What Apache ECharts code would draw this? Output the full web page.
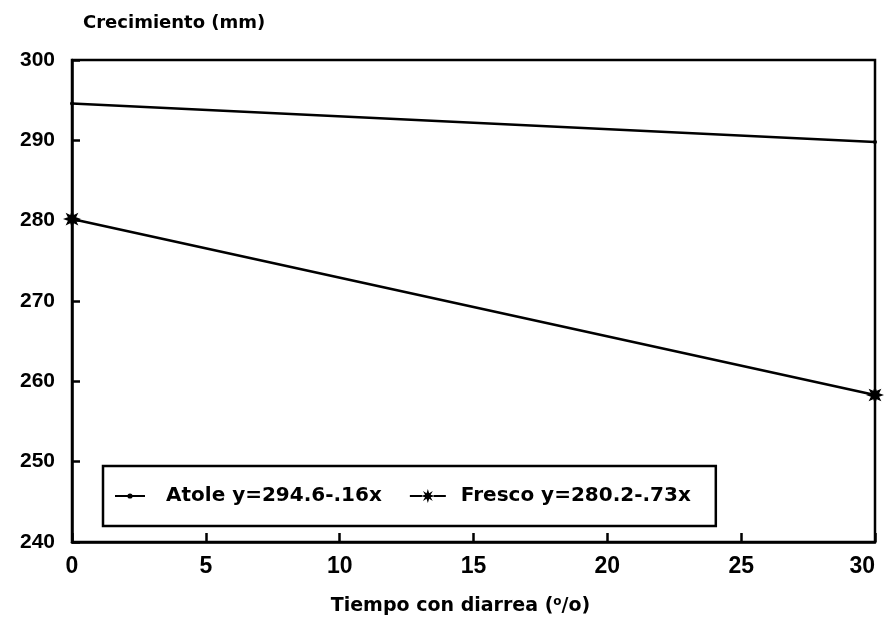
<!DOCTYPE html>
<html>
<head>
<meta charset="utf-8">
<script src="https://cdn.jsdelivr.net/npm/echarts@6/dist/echarts.min.js"></script>
<style>html,body{margin:0;padding:0;background:#fff}#c{width:884px;height:618px}</style>
</head>
<body>
<div id="c"></div>
<script>
// Data
const xValues = [0, 30];
const atoleValues = [294.6, 289.8];
const frescoValues = [280.2, 258.3];
const seriesNames = ['Atole y=294.6-.16x', 'Fresco y=280.2-.73x'];
const yTitle = 'Crecimiento (mm)';
const xTitle = 'Tiempo con diarrea (';

const NUMFONT = '"Liberation Sans", Arial, sans-serif';
const TXTFONT = '"DejaVu Sans", sans-serif';
const star = 'path://M0,-10 L1.9,-4.6 L7.07,-7.07 L4.6,-1.9 L10,0 L4.6,1.9 L7.07,7.07 L1.9,4.6 L0,10 L-1.9,4.6 L-7.07,7.07 L-4.6,1.9 L-10,0 L-4.6,-1.9 L-7.07,-7.07 L-1.9,-4.6 Z';
// legend icons (46 x 14 box): visible line + small dot / line + asterisk, tiny corner marks fix the box
const boxMarks = 'M45.95,0 L46,0 L46,0.05 Z M45.95,14 L46,14 L46,13.95 Z ';
const atoleIcon = 'path://' + boxMarks + 'M0,6 L12.6,6 L12.6,8 L0,8 Z M17.4,6 L30,6 L30,8 L17.4,8 Z M17.6,7 A2.6,2.6 0 1 1 12.4,7 A2.6,2.6 0 1 1 17.6,7 Z';
const frescoIcon = 'path://' + boxMarks + 'M0,6 L12,6 L12,8 L0,8 Z M24,6 L36,6 L36,8 L24,8 Z M18,0 L19.3,4.2 L22.95,2.05 L20.8,5.7 L25,7 L20.8,8.3 L22.95,11.95 L19.3,9.8 L18,14 L16.7,9.8 L13.05,11.95 L15.2,8.3 L11,7 L15.2,5.7 L13.05,2.05 L16.7,4.2 Z';

const chart = echarts.init(document.getElementById('c'), null, {renderer: 'canvas'});
chart.setOption({
  animation: false,
  backgroundColor: '#fff',
  grid: {left: 72, top: 60, right: 9, bottom: 76, outerBoundsMode: 'none', containLabel: false, show: true, borderColor: '#000', borderWidth: 2.5, backgroundColor: 'transparent'},
  title: {
    text: yTitle, left: 78, top: 9,
    textStyle: {fontFamily: TXTFONT, fontWeight: 'bold', fontSize: 18, color: '#000'}
  },
  legend: {
    left: 103, top: 466,
    orient: 'horizontal',
    borderColor: '#000', borderWidth: 2.5, borderRadius: 0,
    padding: [20, 25, 20, 12],
    itemWidth: 46, itemHeight: 14, itemGap: 28,
    textStyle: {fontFamily: TXTFONT, fontWeight: 'bold', fontSize: 20, color: '#000'},
    data: [
      {name: seriesNames[0], icon: atoleIcon},
      {name: seriesNames[1], icon: frescoIcon}
    ]
  },
  xAxis: {
    type: 'value', min: 0, max: 30, interval: 5,
    name: '{n|' + xTitle + '}{s|o}{n|/o)}',
    nameLocation: 'middle', nameGap: 54,
    nameTextStyle: {
      padding: [0, 26, 0, 0],
      rich: {
        n: {fontFamily: TXTFONT, fontWeight: 'bold', fontSize: 19, color: '#000', verticalAlign: 'bottom'},
        s: {fontFamily: TXTFONT, fontWeight: 'bold', fontSize: 12, color: '#000', verticalAlign: 'top', padding: [0, 0, 8, 0]}
      }
    },
    axisLine: {show: true, lineStyle: {color: '#000', width: 2.5}},
    axisTick: {show: true, inside: true, length: 9, lineStyle: {color: '#000', width: 2.5}},
    axisLabel: {fontFamily: NUMFONT, fontWeight: 'bold', fontSize: 23, color: '#000', margin: 13, alignMaxLabel: 'right'},
    splitLine: {show: false}
  },
  yAxis: {
    type: 'value', min: 240, max: 300, interval: 10,
    axisLine: {show: true, lineStyle: {color: '#000', width: 2.5}},
    axisTick: {show: true, inside: true, length: 8, lineStyle: {color: '#000', width: 2.5}},
    axisLabel: {fontFamily: NUMFONT, fontWeight: 'bold', fontSize: 21, color: '#000', margin: 17},
    splitLine: {show: false}
  },
  series: [
    {
      name: seriesNames[0], type: 'line',
      data: xValues.map((x, i) => [x, atoleValues[i]]),
      symbol: 'circle', symbolSize: 4, clip: false,
      lineStyle: {color: '#000', width: 2.5},
      itemStyle: {color: '#000'}
    },
    {
      name: seriesNames[1], type: 'line',
      data: xValues.map((x, i) => [x, frescoValues[i]]),
      symbol: star, symbolSize: 18, clip: false,
      lineStyle: {color: '#000', width: 2.5},
      itemStyle: {color: '#000'}
    }
  ]
});
</script>
</body>
</html>
